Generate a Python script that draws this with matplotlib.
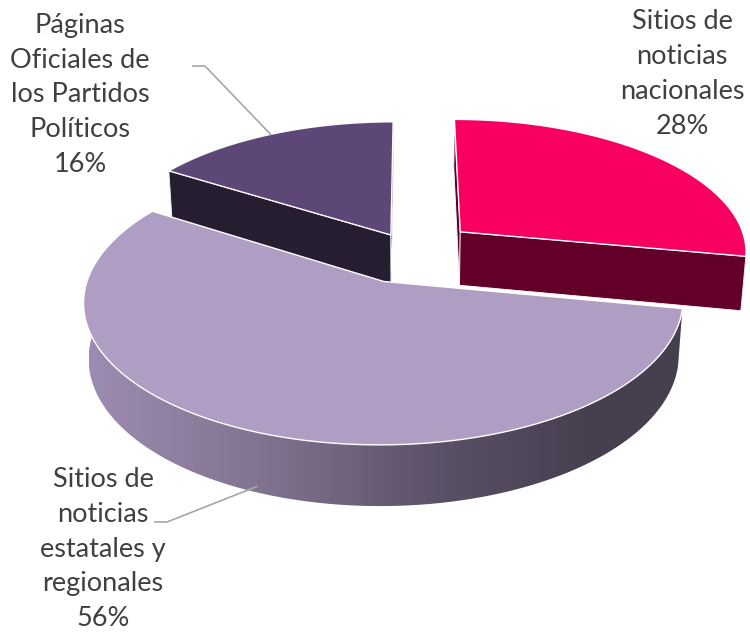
import numpy as np
import matplotlib.pyplot as plt
from matplotlib.patches import Polygon
from matplotlib.colors import LinearSegmentedColormap

# slices run clockwise from 12 o'clock
labels = ["Sitios de\nnoticias\nnacionales",
          "Sitios de\nnoticias\nestatales y\nregionales",
          "Páginas\nOficiales de\nlos Partidos\nPolíticos"]
shares = [28, 56, 16]
explode = [0.231, 0.24, 0.14]
top_colors = ["#F70062", "#B09DC4", "#5C4777"]
side_colors = ["#62002A", "#6A5F78", "#261D30"]

# camera / pie geometry (pixel space)
SIN_E = 0.46
COS_E = np.sqrt(1 - SIN_E ** 2)
DIST = 6.6
FOCAL = 1900
CX, CY = 410, 251
THICK = 0.215


def proj(X, Y, Z):
    depth = DIST + Y * COS_E - Z * SIN_E
    v = Y * SIN_E + Z * COS_E
    return CX + FOCAL * X / depth, CY - FOCAL * v / depth


def pts(X, Y, Z):
    x, y = proj(np.asarray(X, float), np.asarray(Y, float), Z)
    return np.column_stack([np.atleast_1d(x), np.atleast_1d(y)])


fig = plt.figure(figsize=(7.5, 6.32), dpi=100)
ax = fig.add_axes([0, 0, 1, 1])
ax.set_xlim(0, 750)
ax.set_ylim(632, 0)
ax.axis('off')

starts = 90 - 3.6 * np.concatenate([[0], np.cumsum(shares)[:-1]])
ends = starts - 3.6 * np.array(shares)

wall_cmap = LinearSegmentedColormap.from_list(
    "wall", [(0, "#9D8CB1"), (0.3, "#80728F"), (0.6, "#5A5066"), (0.85, "#463F4F"), (1, "#463F4F")])

anchors = {}
# far slices first, the big front slice last
for i in [2, 0, 1]:
    a0, a1 = np.radians(starts[i]), np.radians(ends[i])
    mid = (a0 + a1) / 2
    ox, oy = explode[i] * np.cos(mid), explode[i] * np.sin(mid)
    th = np.linspace(a0, a1, 200)
    ax_, ay_ = ox + np.cos(th), oy + np.sin(th)

    top_arc = pts(ax_, ay_, 0)
    bot_arc = pts(ax_, ay_, -THICK)
    apex_t = pts(ox, oy, 0)
    apex_b = pts(ox, oy, -THICK)

    wall = Polygon(np.vstack([top_arc, bot_arc[::-1]]), closed=True,
                   facecolor=side_colors[i], edgecolor='none', zorder=1)
    ax.add_patch(wall)
    if i == 1:
        wall.set_facecolor('none')
        x0, x1 = bot_arc[:, 0].min(), top_arc[:, 0].max()
        grad = np.linspace(0, 1, 256)[None, :]
        im = ax.imshow(grad, extent=(x0, x1, 632, 0), cmap=wall_cmap,
                       aspect='auto', zorder=1, interpolation='bilinear')
        im.set_clip_path(wall)
    else:
        for k in (0, -1):
            face = np.vstack([apex_t, top_arc[k], bot_arc[k], apex_b])
            ax.add_patch(Polygon(face, closed=True, facecolor=side_colors[i],
                                 edgecolor='white', lw=0.6, zorder=1))

    top = Polygon(np.vstack([apex_t, top_arc]), closed=True,
                  facecolor=top_colors[i], edgecolor='white', lw=1.0, zorder=2)
    ax.add_patch(top)
    anchors[i] = (ox + np.cos(mid), oy + np.sin(mid))

txt = dict(ha='center', va='center', ma='center', fontsize=19.5,
           color='#404040', family='Lato', linespacing=1.49, zorder=5)
label_pos = {0: (682, 74), 1: (103, 549), 2: (80, 95)}
for i, (x, y) in label_pos.items():
    ax.text(x, y, f"{labels[i]}\n{shares[i]}%", **txt)

# leader lines
ex, ey = proj(*anchors[2], 0)
ax.plot([193, 205, ex], [66, 66, ey], color='#A6A6A6', lw=1.2, zorder=4)
ex, ey = proj(*anchors[1], -0.9 * THICK)
ax.plot([155, 167, ex], [522, 522, ey], color='#A6A6A6', lw=1.2, zorder=4)

fig.savefig("out.png", dpi=100)
